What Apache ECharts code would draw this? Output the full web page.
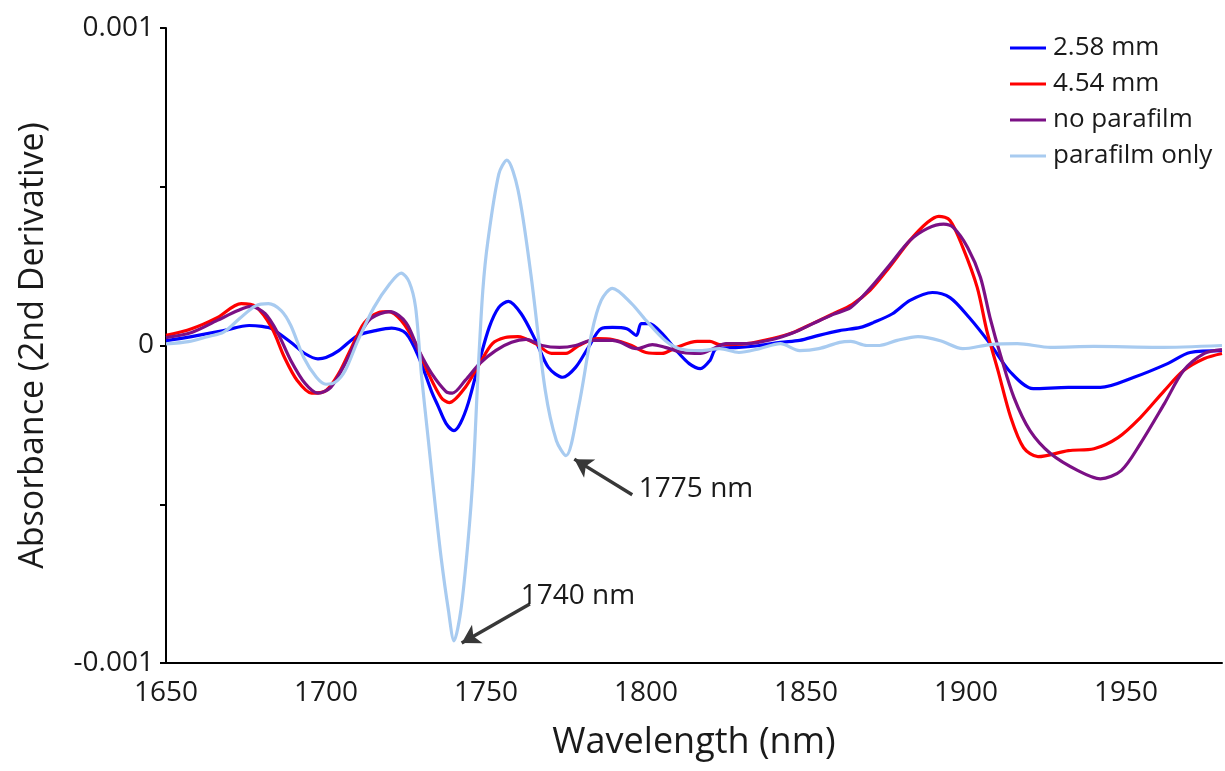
<!DOCTYPE html>
<html>
<head>
<meta charset="utf-8">
<script src="https://cdn.jsdelivr.net/npm/echarts@6/dist/echarts.min.js"></script>
<style>html,body{margin:0;padding:0;background:#fff}#c{width:1225px;height:771px}</style>
</head>
<body>
<div id="c"></div>
<script>
// Values are in units of 1e-4 absorbance (2nd derivative)
const UNIT = 1e-4;
const seriesNames = ['2.58 mm', '4.54 mm', 'no parafilm', 'parafilm only'];
const seriesColors = ['#0000ff', '#ff0000', '#7b1085', '#a8cbf0'];
const yTickLabels = ['-0.001', '0', '0.001'];

const blueNm = [1650,1658,1668,1676,1680,1683,1689,1693.5,1697.5,1700,1704,1710,1715.5,1720.5,1725,1729,1733,1735,1737.5,1740,1742,1744.5,1748,1751,1754,1757,1761,1765.5,1769.5,1774,1778,1782,1786,1789.5,1794,1797,1798.5,1801,1805,1809.5,1813.5,1817,1820,1822,1829,1835.5,1842,1848,1854,1860.5,1867,1871,1877,1882.5,1889.5,1895,1901,1907.5,1914,1921,1932,1942,1952.5,1963,1970,1980];
const blueVal = [0.15,0.28,0.47,0.63,0.6,0.53,0.1,-0.26,-0.42,-0.38,-0.16,0.32,0.47,0.55,0.38,-0.37,-1.45,-1.9,-2.45,-2.68,-2.45,-1.8,-0.47,0.57,1.2,1.39,1.0,0.16,-0.69,-1.0,-0.69,-0.06,0.53,0.57,0.53,0.32,0.69,0.69,0.38,-0.16,-0.57,-0.73,-0.47,-0.1,-0.06,0,0.1,0.16,0.32,0.47,0.57,0.72,1.0,1.42,1.67,1.51,0.88,0.06,-0.85,-1.36,-1.32,-1.32,-1.0,-0.57,-0.22,-0.16];

const redNm = [1650,1658,1666,1673.5,1678,1683,1687,1691,1695.5,1700,1704,1708,1712,1716.5,1719.5,1723.5,1728,1732,1736,1738.5,1743.5,1748,1752,1756,1760,1765.5,1770.5,1775,1779,1785,1789.5,1795.5,1800,1805,1809.5,1816,1820,1823,1831.5,1839.5,1846,1852,1858.5,1864.5,1870,1876,1882.5,1888,1891.5,1895,1899,1903.5,1906.5,1910,1914,1918,1922.5,1932,1940,1947.5,1954.5,1962,1968,1974.5,1980];
const redVal = [0.32,0.53,0.88,1.32,1.23,0.57,-0.37,-1.1,-1.5,-1.42,-0.88,-0.06,0.72,1.04,1.07,0.79,0.06,-0.88,-1.64,-1.8,-1.32,-0.57,0.06,0.25,0.28,0.06,-0.25,-0.25,0,0.22,0.19,0,-0.22,-0.25,-0.06,0.13,0.13,0.03,0.06,0.22,0.41,0.69,1.0,1.3,1.74,2.46,3.31,3.88,4.07,3.94,3.09,1.83,0.47,-0.79,-2.27,-3.22,-3.5,-3.31,-3.25,-2.9,-2.27,-1.42,-0.79,-0.41,-0.25];

const purpleNm = [1650,1658,1666,1672.5,1676.5,1681,1685,1689,1693.5,1697.5,1701.5,1706,1710,1714,1720,1725,1729,1733,1737.5,1739.5,1743.5,1748,1753,1758,1762.5,1767.5,1773,1778,1783,1789.5,1792,1797,1802,1806,1811.5,1817,1821,1825,1831.5,1839.5,1846,1852,1858.5,1864,1870,1876,1882.5,1888,1893,1896,1900.5,1904.5,1907.5,1911,1915,1920,1926.5,1935,1942,1948.5,1954.5,1962,1968,1974.5,1980];
const purpleVal = [0.25,0.41,0.79,1.1,1.23,1.0,0.38,-0.47,-1.2,-1.5,-1.32,-0.57,0.25,0.85,1.07,0.72,-0.16,-0.88,-1.45,-1.5,-1.1,-0.57,-0.16,0.1,0.19,0,-0.06,0,0.16,0.16,0.1,-0.1,0.03,-0.06,-0.22,-0.25,-0.1,0.06,0.06,0.19,0.4,0.68,0.98,1.2,1.8,2.52,3.31,3.69,3.82,3.72,3.09,2.15,0.88,-0.38,-1.64,-2.68,-3.41,-3.94,-4.2,-3.94,-3.09,-1.83,-0.79,-0.25,-0.13];

const lightNm = [1650,1657,1663,1668,1673,1678,1682,1686,1689,1693,1697,1700,1703,1706,1710,1715,1720,1723.5,1726,1728,1729.8,1732,1734.2,1736,1738.2,1740,1742.2,1744.4,1746,1747.5,1749,1750.6,1754,1756.5,1760,1764,1768.5,1772,1775,1779,1783,1786,1789.5,1795.5,1800,1806,1810.5,1817,1823,1829,1835.5,1842,1848,1854,1860.5,1864,1869,1873,1878.5,1885,1892,1899,1907.5,1916,1926.5,1940,1960,1980];
const lightVal = [0.05,0.12,0.28,0.42,0.85,1.25,1.32,1.1,0.63,-0.37,-1.0,-1.22,-1.15,-0.79,0.16,1.2,1.95,2.28,2.0,1.2,-0.9,-3.0,-5.1,-6.7,-8.3,-9.3,-8.3,-6.15,-4.0,-0.9,1.73,3.3,5.4,5.84,4.9,2.26,-1.4,-3.0,-3.47,-1.9,0.38,1.42,1.8,1.32,0.79,0.16,-0.1,-0.16,-0.1,-0.22,-0.1,0.06,-0.16,-0.1,0.1,0.13,0,0,0.16,0.28,0.15,-0.1,0.03,0.06,-0.06,-0.03,-0.06,0.0];

// annotations: label text, text anchor (nm, 1e-4), arrow start (nm, 1e-4), arrow tip (nm, 1e-4)
const annoText = ['1775 nm', '1740 nm'];
const annoTextPos = [[1797.6, -4.51], [1760.7, -7.89]];
const annoArrowFrom = [[1795.7, -4.70], [1763.7, -8.14]];
const annoArrowTo = [[1777.6, -3.58], [1742.4, -9.37]];

const FONT = '"Open Sans", "Noto Sans", sans-serif';

function pairs(nm, v) { return nm.map((x, i) => [x, v[i] * UNIT]); }

const allNm = [blueNm, redNm, purpleNm, lightNm];
const allVal = [blueVal, redVal, purpleVal, lightVal];

const series = seriesNames.map((name, i) => ({
  name: name,
  type: 'line',
  data: pairs(allNm[i], allVal[i]),
  smooth: 0.3,
  showSymbol: false,
  symbol: 'none',
  lineStyle: { color: seriesColors[i], width: 3.2 },
  itemStyle: { color: seriesColors[i] },
  z: 2 + i,
  animation: false
}));

// annotation series (arrows + text)
series.push({
  name: 'annotations',
  type: 'line',
  data: [],
  silent: true,
  animation: false,
  z: 10,
  markLine: {
    silent: true,
    animation: false,
    symbol: ['none', 'arrow'],
    symbolSize: [16, 18],
    lineStyle: { color: '#383838', width: 3.4, type: 'solid' },
    label: { show: false },
    data: annoArrowFrom.map((f, i) => [
      { coord: [f[0], f[1] * UNIT] },
      { coord: [annoArrowTo[i][0], annoArrowTo[i][1] * UNIT] }
    ])
  },
  markPoint: {
    silent: true,
    animation: false,
    symbol: 'rect',
    symbolSize: 1,
    itemStyle: { color: 'rgba(0,0,0,0)' },
    label: {
      show: true,
      position: 'right',
      distance: 0,
      color: '#1a1a1a',
      fontSize: 28,
      fontFamily: FONT,
      formatter: p => p.name
    },
    data: annoText.map((t, i) => ({ name: t, coord: [annoTextPos[i][0], annoTextPos[i][1] * UNIT] }))
  }
});

const chart = echarts.init(document.getElementById('c'), null, { renderer: 'canvas' });
chart.setOption({
  backgroundColor: '#fff',
  animation: false,
  grid: { left: 166, right: 3, top: 28, bottom: 108, containLabel: false },
  legend: {
    data: seriesNames,
    orient: 'vertical',
    left: 1005,
    top: 30,
    icon: 'rect',
    itemWidth: 36,
    itemHeight: 3,
    itemGap: 10,
    textStyle: { fontSize: 26, color: '#1a1a1a', fontFamily: FONT, padding: [0, 0, 0, 2] }
  },
  xAxis: {
    type: 'value',
    min: 1650,
    max: 1980,
    interval: 50,
    name: 'Wavelength (nm)',
    nameLocation: 'middle',
    nameGap: 62,
    nameTextStyle: { fontSize: 36, color: '#1a1a1a', fontFamily: FONT },
    axisLine: { show: true, onZero: false, lineStyle: { color: '#000', width: 2 } },
    axisTick: { show: false },
    splitLine: { show: false },
    axisLabel: {
      fontSize: 28, color: '#1a1a1a', fontFamily: FONT, margin: 16,
      formatter: v => (v > 1975 ? '' : String(v))
    }
  },
  yAxis: {
    type: 'value',
    min: -0.001,
    max: 0.001,
    interval: 0.0005,
    name: 'Absorbance (2nd Derivative)',
    nameLocation: 'middle',
    nameGap: 116,
    nameTextStyle: { fontSize: 34, color: '#1a1a1a', fontFamily: FONT },
    axisLine: { show: true, lineStyle: { color: '#000', width: 2 } },
    axisTick: { show: true, length: 6, lineStyle: { color: '#000', width: 2 } },
    splitLine: { show: false },
    axisLabel: {
      fontSize: 28, color: '#1a1a1a', fontFamily: FONT, margin: 12,
      formatter: v => {
        if (Math.abs(v) < 1e-9) return yTickLabels[1];
        if (Math.abs(v - 0.001) < 1e-9) return yTickLabels[2];
        if (Math.abs(v + 0.001) < 1e-9) return yTickLabels[0];
        return '';
      }
    }
  },
  series: series
});
</script>
</body>
</html>
